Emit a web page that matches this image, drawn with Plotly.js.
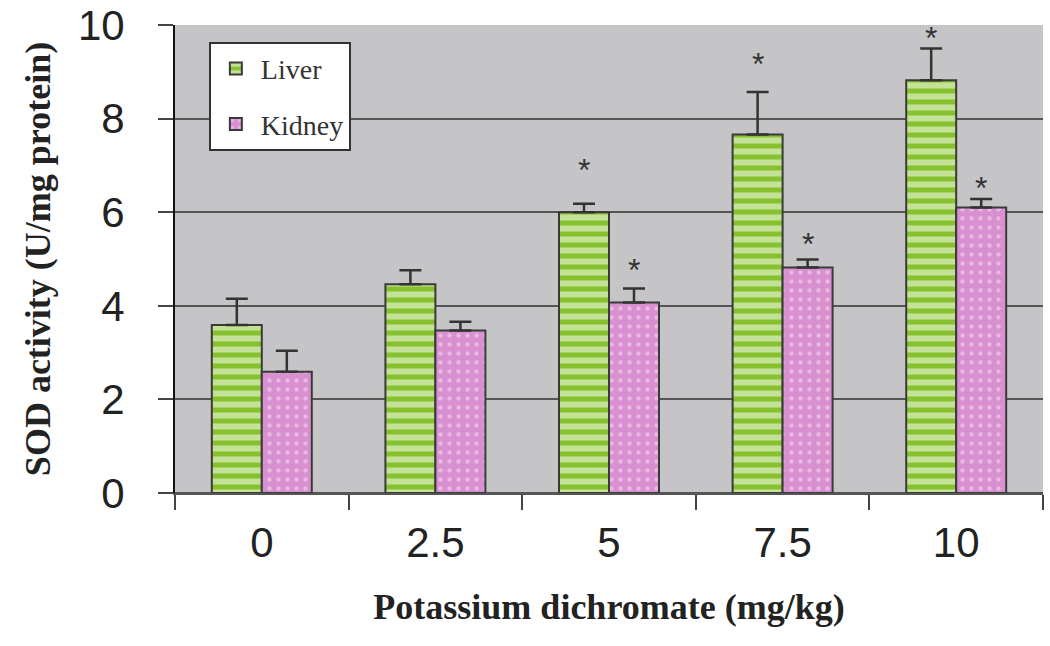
<!DOCTYPE html>
<html>
<head>
<meta charset="utf-8">
<script src="https://cdn.plot.ly/plotly-3.0.1.min.js"></script>
<style>html,body{margin:0;padding:0;background:#fff;}#chart{width:1050px;height:646px;}</style>
</head>
<body>
<div id="chart"></div>
<script>
// Data
const doses = ['0', '2.5', '5', '7.5', '10'];
const liverMean = [3.59, 4.46, 6.00, 7.66, 8.82];
const liverErr = [0.56, 0.30, 0.18, 0.91, 0.68];
const kidneyMean = [2.59, 3.47, 4.07, 4.82, 6.10];
const kidneyErr = [0.45, 0.19, 0.30, 0.17, 0.18];
// significance markers (label heights, in data units; null = none)
const liverStarY = [null, null, 7.03, 9.29, 9.85];
const kidneyStarY = [null, null, 4.89, 5.45, 6.65];
const yTicks = [0, 2, 4, 6, 8, 10];

const barLine = {color: '#3a3a3a', width: 2};
const zeros = doses.map(() => 0);

const liver = {
  type: 'bar', name: 'Liver', x: doses, y: liverMean, legendgroup: 'a',
  marker: {color: '#86c22e', line: barLine,
    pattern: {shape: '-', bgcolor: '#86c22e', fgcolor: '#ffffff', size: 11, solidity: 0.55, fillmode: 'overlay'}},
  error_y: {type: 'data', symmetric: false, array: liverErr, arrayminus: zeros, color: '#333', thickness: 2.5, width: 11}
};
const kidney = {
  type: 'bar', name: 'Kidney', x: doses, y: kidneyMean, legendgroup: 'b',
  marker: {color: '#d890d0', line: barLine,
    pattern: {shape: '.', bgcolor: '#d890d0', fgcolor: '#f8e4f4', size: 9, solidity: 0.18, fillmode: 'overlay'}},
  error_y: {type: 'data', symmetric: false, array: kidneyErr, arrayminus: zeros, color: '#333', thickness: 2.5, width: 11}
};

const starFont = {family: 'Liberation Sans', size: 32, color: '#333'};
const annotations = [];
doses.forEach((d, i) => {
  if (liverStarY[i] !== null) annotations.push({x: i, y: liverStarY[i], xref: 'x', yref: 'y', text: '*', showarrow: false, xshift: -25, yshift: -6, font: starFont});
  if (kidneyStarY[i] !== null) annotations.push({x: i, y: kidneyStarY[i], xref: 'x', yref: 'y', text: '*', showarrow: false, xshift: 25, yshift: -6, font: starFont});
});

const layout = {
  width: 1050, height: 646,
  margin: {l: 175, r: 7, t: 25, b: 153},
  paper_bgcolor: '#ffffff', plot_bgcolor: '#c5c5c7',
  barmode: 'group', bargap: 0.424, bargroupgap: 0,
  showlegend: true,
  legend: {x: 0.039, y: 0.964, xanchor: 'left', yanchor: 'top', bgcolor: '#ffffff', bordercolor: '#333', borderwidth: 2,
    font: {family: 'Liberation Serif', size: 28, color: '#333'}, tracegroupgap: 16, traceorder: 'grouped', itemwidth: 40},
  xaxis: {type: 'category', range: [-0.5, doses.length - 0.5], tickson: 'boundaries', ticks: 'outside', ticklen: 15, tickwidth: 2, tickcolor: '#444',
    showline: true, linecolor: '#555', linewidth: 2, showgrid: false, ticklabelstandoff: 12,
    tickfont: {family: 'Liberation Sans', size: 42, color: '#222'},
    title: {text: '<b>Potassium dichromate (mg/kg)</b>', standoff: 28, font: {family: 'Liberation Serif', size: 36, color: '#222'}}},
  yaxis: {range: [0, 10], tickvals: yTicks, ticktext: yTicks.map(String), ticks: 'outside', ticklen: 15, tickwidth: 2, tickcolor: '#444',
    showline: true, linecolor: '#111', linewidth: 2, showgrid: true, gridcolor: '#555', gridwidth: 2,
    zeroline: true, zerolinecolor: '#555', zerolinewidth: 2, ticklabelstandoff: 25,
    tickfont: {family: 'Liberation Sans', size: 42, color: '#222'},
    title: {text: '<b>SOD activity (U/mg protein)</b>', standoff: 16, font: {family: 'Liberation Serif', size: 36, color: '#222'}}},
  annotations: annotations
};

Plotly.newPlot('chart', [liver, kidney], layout, {displayModeBar: false, staticPlot: true});
</script>
</body>
</html>
